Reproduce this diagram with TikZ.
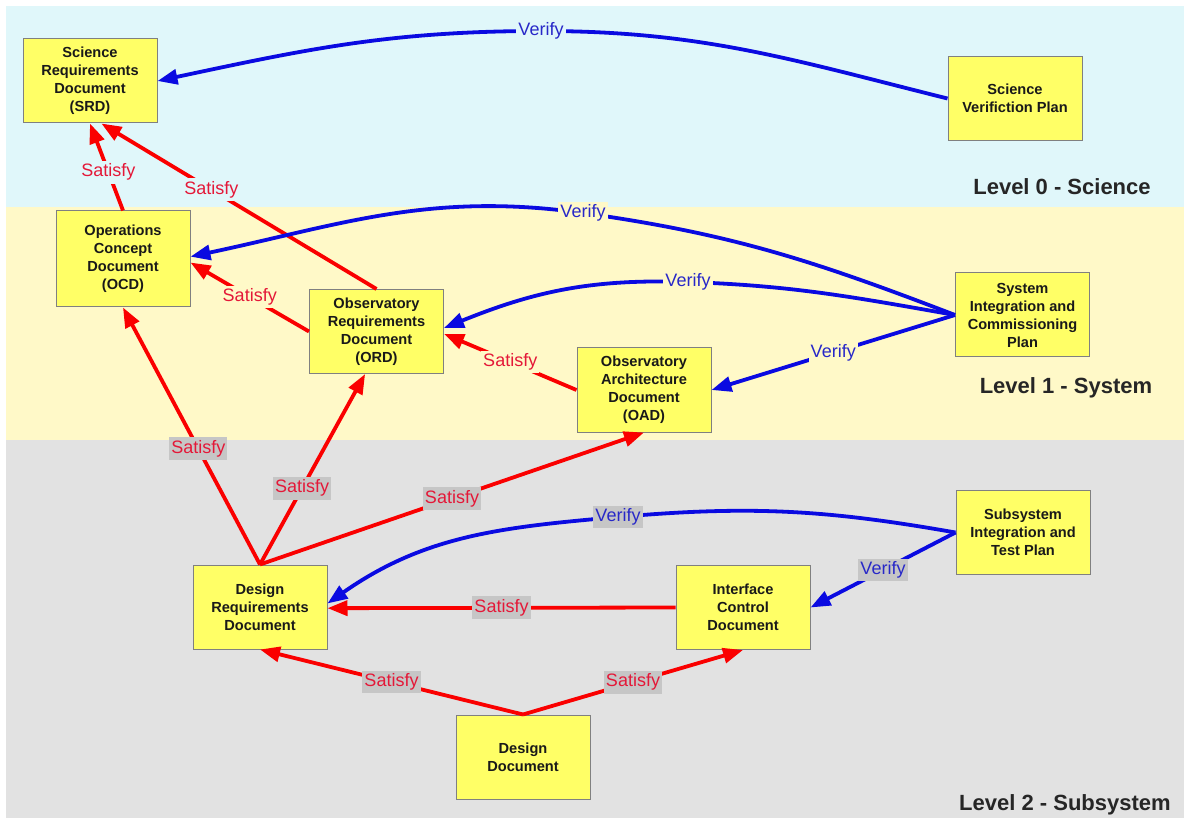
\documentclass[tikz,border=0pt]{standalone}
\usepackage{fontspec}
\setmainfont{Liberation Sans}
\usetikzlibrary{arrows.meta}
\definecolor{skyb}{RGB}{224,247,250}
\definecolor{sand}{RGB}{255,249,200}
\definecolor{ash}{RGB}{226,226,226}
\definecolor{ashd}{RGB}{198,198,198}
\definecolor{boxy}{RGB}{255,255,102}
\definecolor{satr}{RGB}{228,24,56}
\definecolor{verb}{RGB}{40,40,200}
\definecolor{lnred}{RGB}{250,0,0}
\definecolor{lnblue}{RGB}{10,10,225}

\begin{document}
\begin{tikzpicture}[x=1pt, y=-1pt,
       bx/.style={draw=black!50, line width=1pt, fill=boxy, minimum width=134pt,
         minimum height=84pt, align=center, text=black!90,
         font=\fontsize{14.6}{18}\selectfont\bfseries},
       sat/.style={-{Triangle[length=20pt,width=15pt]}, lnred, line width=3.8pt},
       ver/.style={-{Triangle[length=20pt,width=15pt]}, lnblue, line width=3.8pt},
       sl/.style={text=satr, font=\fontsize{18}{18}\selectfont, inner xsep=2pt, inner ysep=3pt},
       vl/.style={text=verb, font=\fontsize{18}{18}\selectfont, inner xsep=2pt, inner ysep=3pt},
       lvl/.style={text=black!85, font=\fontsize{22}{22}\selectfont\bfseries}]
     \useasboundingbox (0,0) rectangle (1184,818);
     % the three levels
     \fill[white] (0,0) rectangle (1184,818);
     \fill[skyb] (6,6) rectangle (1184,207);
     \fill[sand] (6,207) rectangle (1184,440);
     \fill[ash] (6,440) rectangle (1184,818);
     \node[lvl] (l0) at (1062,187) {Level 0 - Science};
     \node[lvl] (l1) at (1066,388) {Level 1 - System};
     \node[lvl] (l2) at (1065,805) {Level 2 - Subsystem};
     % documents
     \node[bx] (srd) at (90,81) {Science\\Requirements\\Document\\(SRD)};
     \node[bx] (svp) at (1015,98.5) {Science\\Verifiction Plan};
     \node[bx, minimum height=96pt] (ocd) at (123,259) {Operations\\Concept\\Document\\(OCD)};
     \node[bx] (ord) at (376.5,331.5) {Observatory\\Requirements\\Document\\(ORD)};
     \node[bx] (oad) at (644,390) {Observatory\\Architecture\\Document\\(OAD)};
     \node[bx] (sicp) at (1022.5,315) {System\\Integration and\\Commissioning\\Plan};
     \node[bx] (drd) at (260,607) {Design\\Requirements\\Document};
     \node[bx] (icd) at (743,607.5) {Interface\\Control\\Document};
     \node[bx] (sitp) at (1023,532.5) {Subsystem\\Integration and\\Test Plan};
     \node[bx] (dd) at (523,757) {Design\\Document};
     % satisfy
     \draw[sat] (ocd.north) -- node[sl, fill=skyb, pos=0.44] (s1) {Satisfy} (srd.south);
     \draw[sat] (ord.north) -- node[sl, fill=skyb, pos=0.6] (s2) {Satisfy} (srd.-75);
     \draw[sat] (ord.west) -- node[sl, fill=sand] (s3) {Satisfy} (ocd.-3);
     \draw[sat] (oad.west) -- node[sl, fill=sand] (s4) {Satisfy} (ord.-2);
     \draw[sat] (drd.north) -- node[sl, fill=ashd, pos=0.45] (s5) {Satisfy} (ocd.south);
     \draw[sat] (drd.north) -- node[sl, fill=ashd, pos=0.4] (s6) {Satisfy} (ord.-105);
     \draw[sat] (drd.north) -- node[sl, fill=ashd] (s7) {Satisfy} (oad.south);
     \draw[sat] (icd.west) -- node[sl, fill=ashd] (s8) {Satisfy} (drd.-1);
     \draw[sat] (dd.north) -- node[sl, fill=ashd] (s9) {Satisfy} (drd.south);
     \draw[sat] (dd.north) -- node[sl, fill=ashd] (s10) {Satisfy} (icd.south);
     % verify
     \coordinate (va) at (541,31);
     \coordinate (vb) at (583,213);
     \coordinate (vc) at (688,282);
     \coordinate (ve) at (618,517);
     \draw[ver] (svp.west) to[out=166,in=0] (va) to[out=180,in=12] (srd.east);
     \draw[ver] (sicp.west) to[out=159,in=-8] (vb) to[out=172,in=12] (ocd.2);
     \draw[ver] (sicp.west) to[out=170,in=-2] (vc) to[out=178,in=22] (ord.3);
     \draw[ver] (sicp.west) -- node[vl, fill=sand] (v4) {Verify} (oad.east);
     \draw[ver] (sitp.west) to[out=170,in=5] (ve) to[out=185,in=35] (drd.3);
     \draw[ver] (sitp.west) -- node[vl, fill=ashd] (v6) {Verify} (icd.east);
     \node[vl, fill=skyb] (v1) at (va) {Verify};
     \node[vl, fill=sand] (v2) at (vb) {Verify};
     \node[vl, fill=sand] (v3) at (vc) {Verify};
     \node[vl, fill=ashd] (v5) at (ve) {Verify};
   \end{tikzpicture}
\end{document}
